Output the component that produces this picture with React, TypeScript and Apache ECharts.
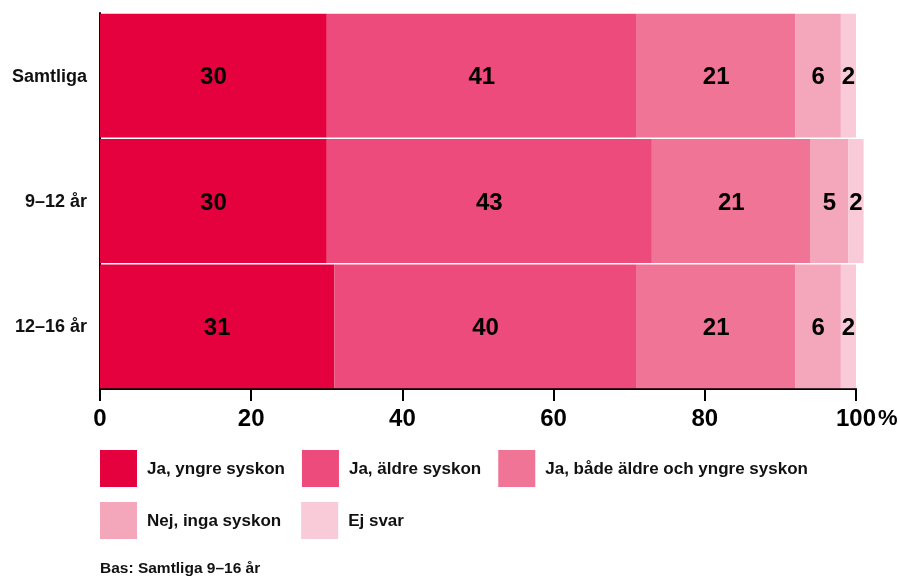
import React, { useEffect, useRef } from "react";
import * as echarts from "echarts";

const categories = ["Samtliga", "9–12 år", "12–16 år"];
const seriesNames = [
  "Ja, yngre syskon",
  "Ja, äldre syskon",
  "Ja, både äldre och yngre syskon",
  "Nej, inga syskon",
  "Ej svar",
];
const yngre = [30, 30, 31];
const aldre = [41, 43, 40];
const bada = [21, 21, 21];
const inga = [6, 5, 6];
const ejSvar = [2, 2, 2];
const xTicks = [0, 20, 40, 60, 80, 100];
const colors = ["#E5003E", "#ED4B7B", "#F07496", "#F4A6BB", "#F9CAD7"];
const footnote = "Bas: Samtliga 9–16 år";

const FONT = "Liberation Sans, Arial, sans-serif";

export default function App() {
  const ref = useRef<HTMLDivElement>(null);
  useEffect(() => {
    if (!ref.current) return;
    const chart = echarts.init(ref.current, null, { renderer: "svg" });
    const values = [yngre, aldre, bada, inga, ejSvar];
    const series = values.map((v, i) => ({
      name: seriesNames[i],
      type: "bar",
      stack: "total",
      clip: false,
      barCategoryGap: "1.2%",
      data: v,
      itemStyle: { color: colors[i] },
      label: {
        show: true,
        position: "inside",
        color: "#000",
        fontFamily: FONT,
        fontWeight: "bold",
        fontSize: 24,
      },
      emphasis: { disabled: true },
    }));
    const legendText = {
      fontFamily: FONT,
      fontWeight: "bold",
      fontSize: 17,
      color: "#111",
      padding: [0, 0, 0, 5],
    };
    const legendBase = {
      left: 100,
      padding: 0,
      itemWidth: 37,
      itemHeight: 37,
      icon: "rect",
      textStyle: legendText,
      selectedMode: false,
    };
    chart.setOption({
      animation: false,
      grid: { left: 100, right: 44, top: 13, height: 376, containLabel: false },
      xAxis: {
        type: "value",
        min: 0,
        max: 100,
        interval: 20,
        axisLine: { show: true, lineStyle: { color: "#000", width: 2 } },
        axisTick: { show: true, length: 12, lineStyle: { color: "#000", width: 2 } },
        splitLine: { show: false },
        axisLabel: {
          margin: 16,
          fontFamily: FONT,
          fontWeight: "bold",
          fontSize: 24,
          color: "#000",
          formatter: (v: number) => (xTicks.includes(v) ? String(v) : ""),
        },
      },
      yAxis: {
        type: "category",
        inverse: true,
        data: categories,
        axisLine: { show: true, lineStyle: { color: "#000", width: 2 } },
        axisTick: { show: false },
        axisLabel: {
          margin: 13,
          fontFamily: FONT,
          fontWeight: "bold",
          fontSize: 18,
          color: "#111",
        },
      },
      legend: [
        { ...legendBase, itemGap: 17, data: seriesNames.slice(0, 3), top: 450 },
        { ...legendBase, itemGap: 20, data: seriesNames.slice(3), top: 502 },
      ],
      graphic: [
        {
          type: "text",
          left: 878,
          top: 406,
          style: {
            text: "%",
            fontFamily: FONT,
            fontWeight: "bold",
            fontSize: 22,
            fill: "#000",
          },
        },
        {
          type: "text",
          left: 100,
          top: 559,
          style: {
            text: footnote,
            fontFamily: FONT,
            fontWeight: "bold",
            fontSize: 15.5,
            fill: "#111",
          },
        },
      ],
      series,
    });
    return () => chart.dispose();
  }, []);
  return (
    <div
      ref={ref}
      style={{ position: "fixed", left: 0, top: 0, width: 900, height: 577 }}
    />
  );
}
